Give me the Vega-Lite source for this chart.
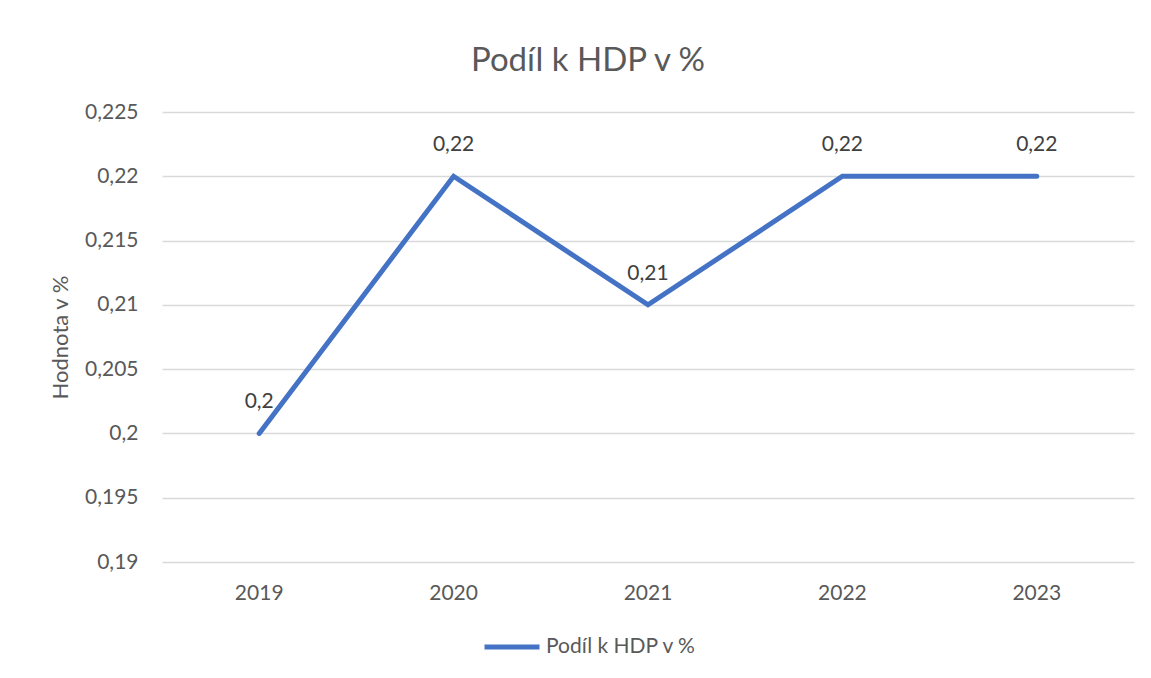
{
  "$schema": "https://vega.github.io/schema/vega-lite/v6.json",
  "width": 972,
  "height": 450,
  "autosize": {"type": "none"},
  "padding": {"left": 162, "top": 112, "right": 17, "bottom": 116},
  "background": "white",
  "config": {
    "locale": {"number": {"decimal": ",", "thousands": " ", "grouping": [3], "currency": ["", " Kč"]}},
    "font": "Lato",
    "view": {"stroke": null},
    "axis": {"labelFont": "Lato", "titleFont": "Lato"}
  },
  "title": {
    "text": "Podíl k HDP v %",
    "fontSize": 33,
    "fontWeight": "normal",
    "color": "#595959",
    "font": "Lato",
    "anchor": "middle",
    "dx": -60,
    "offset": 23
  },
  "data": {
    "values": [
      {"rok": "2019", "hodnota": 0.2, "serie": "Podíl k HDP v %"},
      {"rok": "2020", "hodnota": 0.22, "serie": "Podíl k HDP v %"},
      {"rok": "2021", "hodnota": 0.21, "serie": "Podíl k HDP v %"},
      {"rok": "2022", "hodnota": 0.22, "serie": "Podíl k HDP v %"},
      {"rok": "2023", "hodnota": 0.22, "serie": "Podíl k HDP v %"}
    ]
  },
  "encoding": {
    "x": {
      "field": "rok",
      "type": "ordinal",
      "scale": {"type": "band", "paddingInner": 0, "paddingOuter": 0},
      "axis": {
        "title": null,
        "labelAngle": 0,
        "labelFontSize": 21,
        "labelColor": "#595959",
        "labelPadding": 20,
        "ticks": false,
        "domain": false,
        "grid": false
      }
    },
    "y": {
      "field": "hodnota",
      "type": "quantitative",
      "scale": {"domain": [0.19, 0.225], "nice": false, "zero": false},
      "axis": {
        "title": "Hodnota v %",
        "titleFontSize": 22,
        "titleFontWeight": "normal",
        "titleColor": "#595959",
        "titlePadding": 12,
        "values": [0.19, 0.195, 0.2, 0.205, 0.21, 0.215, 0.22, 0.225],
        "format": "~g",
        "labelFontSize": 21,
        "labelColor": "#595959",
        "labelPadding": 24,
        "ticks": false,
        "domain": false,
        "gridColor": "#D9D9D9",
        "gridWidth": 1.5
      }
    }
  },
  "layer": [
    {
      "mark": {"type": "line", "strokeWidth": 5, "strokeCap": "round", "strokeJoin": "miter"},
      "encoding": {
        "color": {
          "field": "serie",
          "type": "nominal",
          "scale": {"range": ["#4472C4"]},
          "legend": {
            "title": null,
            "orient": "none",
            "legendX": 320,
            "legendY": 505,
            "symbolType": "stroke",
            "symbolSize": 3025,
            "symbolStrokeWidth": 5,
            "labelFontSize": 21,
            "labelColor": "#595959",
            "labelFont": "Lato",
            "labelOffset": 4
          }
        }
      }
    },
    {
      "mark": {"type": "text", "dy": -31, "fontSize": 21, "color": "#404040", "font": "Lato"},
      "encoding": {
        "text": {"field": "hodnota", "type": "quantitative", "format": "~g"}
      }
    }
  ]
}
